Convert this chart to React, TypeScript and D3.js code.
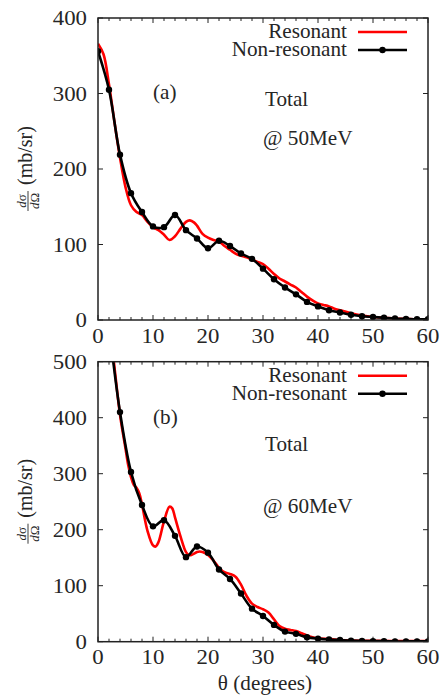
import React from "react";
import * as d3 from "d3";

// ---------- data ----------
const thetaNR = d3.range(0, 61, 2);
const nonResA = [356, 305, 219, 168, 143, 124, 123, 139, 119, 108, 95, 105, 98, 88, 81, 68, 54, 43, 34, 24, 18, 13, 10, 7, 5, 4, 3, 2, 1.5, 1, 1];
const nonResB = [760, 565, 410, 303, 244, 206, 217, 189, 151, 170, 159, 129, 112, 86, 59, 46, 30, 18, 14, 8, 5.5, 4, 3, 2, 1.5, 1, 1, 0.5, 0.5, 0.5, 0.5];

const thetaResA = [0, 1, 2, 3, 4, 5, 6, 7, 8, 9, 10, 11, 12, 13, 14, 15, 16, 16.7, 17.5, 18, 19, 20, 21, 22, 23, 24, 25, 26, 27, 28, 29, 30, 31, 32, 33, 34, 35, 36, 37, 38, 39, 40, 41, 42, 43, 44, 46, 48, 50, 52, 54, 56, 58, 60];
const resA = [366, 352, 312, 262, 215, 176, 152, 143, 139, 130, 123, 119, 113, 106, 111, 121, 130, 132, 129, 125, 114, 109, 106, 104, 98, 93, 88, 85, 83, 80, 77, 74, 68, 61, 55, 51, 47, 43, 37, 31, 26, 22, 20, 18, 15, 13, 9, 6, 4, 3, 2, 1.5, 1, 1];

const thetaResB = [0, 2, 3, 4, 5, 5.5, 6, 6.5, 7, 7.5, 8, 9, 10, 10.5, 11, 12, 13, 13.5, 14, 15, 16, 16.5, 17, 18, 18.5, 19, 20, 21, 22, 23, 24, 25, 26, 27, 28, 29, 30, 31, 32, 33, 34, 35, 36, 37, 38, 39, 40, 42, 44, 46, 50, 55, 60];
const resB = [760, 575, 490, 405, 345, 315, 294, 280, 275, 265, 245, 198, 172, 170, 178, 215, 241, 238, 222, 188, 160, 155, 155, 160, 161, 160, 155, 145, 132, 124, 121, 116, 102, 82, 68, 62, 58, 52, 40, 28, 23, 21, 19, 15, 11, 8, 6, 5, 3, 2, 1.5, 1, 1];

const xTicks = [0, 10, 20, 30, 40, 50, 60];
const yTicksA = [0, 100, 200, 300, 400];
const yTicksB = [0, 100, 200, 300, 400, 500];
const legendLabels = ["Resonant", "Non-resonant"];

const FONT = "'Liberation Serif', 'Times New Roman', serif";
const TXT = "#262626";
const RED = "#ff0000";

const X0 = 98;
const X1 = 428;

type TProps = {
  x: number;
  y: number;
  sx?: number;
  anchor?: "start" | "middle" | "end";
  size?: number;
  dy?: string;
  children: React.ReactNode;
};

function T({ x, y, sx = 1.06, anchor = "start", size = 20, dy, children }: TProps) {
  return (
    <text
      transform={`translate(${x},${y}) scale(${sx},1)`}
      textAnchor={anchor}
      dy={dy}
      fontSize={size}
      fill={TXT}
      fontFamily={FONT}
    >
      {children}
    </text>
  );
}

type PanelProps = {
  id: string;
  top: number;
  bottom: number;
  yMax: number;
  yTicks: number[];
  nonRes: number[];
  thRes: number[];
  res: number[];
  tag: string;
  energy: string;
  tagY: number;
  totalY: number;
  energyY: number;
};

function Panel(p: PanelProps) {
  const x = d3.scaleLinear().domain([0, 60]).range([X0, X1]);
  const y = d3.scaleLinear().domain([0, p.yMax]).range([p.bottom, p.top]);
  const line = d3
    .line<[number, number]>()
    .x((d) => x(d[0]))
    .y((d) => y(d[1]))
    .curve(d3.curveCatmullRom.alpha(0.5));
  const redPts: [number, number][] = p.thRes.map((t, i) => [t, p.res[i]]);
  const blkPts: [number, number][] = thetaNR.map((t, i) => [t, p.nonRes[i]]);
  const minor = d3.range(0, 61, 2);
  const clipId = "clip-" + p.id;
  const visibleDots = blkPts.filter((d) => d[1] <= p.yMax);
  const top = p.top;
  return (
    <g>
      <defs>
        <clipPath id={clipId}>
          <rect x={X0} y={p.top} width={X1 - X0} height={p.bottom - p.top} />
        </clipPath>
      </defs>
      {minor.map((t) => {
        const len = t % 10 === 0 ? 5 : 3;
        return (
          <g key={"xt" + t} stroke="#222" strokeWidth={1}>
            <line x1={x(t)} x2={x(t)} y1={p.bottom} y2={p.bottom - len} />
            <line x1={x(t)} x2={x(t)} y1={p.top} y2={p.top + len} />
          </g>
        );
      })}
      {p.yTicks.map((v) => (
        <g key={"yt" + v} stroke="#222" strokeWidth={1}>
          <line x1={X0} x2={X0 + 5} y1={y(v)} y2={y(v)} />
          <line x1={X1} x2={X1 - 5} y1={y(v)} y2={y(v)} />
        </g>
      ))}
      {p.yTicks.map((v) => (
        <T key={"yl" + v} x={87} y={y(v)} dy="0.35em" anchor="end" sx={1.14}>
          {v}
        </T>
      ))}
      {xTicks.map((t) => (
        <T key={"xl" + t} x={x(t)} y={p.bottom + 22.5} anchor="middle" sx={1.14}>
          {t}
        </T>
      ))}
      <g clipPath={`url(#${clipId})`}>
        <path d={line(redPts) || ""} fill="none" stroke={RED} strokeWidth={2.6} />
        <path d={line(blkPts) || ""} fill="none" stroke="#000" strokeWidth={2.6} />
        {visibleDots.map((d, i) => (
          <circle key={i} cx={x(d[0])} cy={y(d[1])} r={3.2} fill="#000" />
        ))}
      </g>
      <rect x={X0} y={p.top} width={X1 - X0} height={p.bottom - p.top} fill="none" stroke="#222" strokeWidth={1.5} />
      <T x={347} y={top + 20} anchor="end">
        {legendLabels[0]}
      </T>
      <line x1={358} x2={407} y1={top + 14} y2={top + 14} stroke={RED} strokeWidth={2.6} />
      <T x={347} y={top + 38} anchor="end">
        {legendLabels[1]}
      </T>
      <line x1={358} x2={407} y1={top + 32} y2={top + 32} stroke="#000" strokeWidth={2.6} />
      <circle cx={382.5} cy={top + 32} r={3.2} fill="#000" />
      <T x={153} y={p.tagY}>{p.tag}</T>
      <T x={265} y={p.totalY}>Total</T>
      <T x={263} y={p.energyY}>{p.energy}</T>
      <g transform={`translate(28, ${(p.top + p.bottom) / 2 - 3}) rotate(-90)`} fill={TXT} fontFamily={FONT}>
        <text x={-35} y={-2} textAnchor="middle" fontSize={13}>
          <tspan fontStyle="italic">d</tspan>σ
        </text>
        <line x1={-45} x2={-25} y1={0} y2={0} stroke={TXT} strokeWidth={0.9} />
        <text x={-35} y={10.5} textAnchor="middle" fontSize={13}>
          <tspan fontStyle="italic">d</tspan>Ω
        </text>
        <text x={-19} y={4} textAnchor="start" fontSize={20}>
          (mb/sr)
        </text>
      </g>
    </g>
  );
}

export default function App() {
  return (
    <svg width={444} height={698} style={{ position: "absolute", left: 0, top: 0, background: "#fff" }}>
      <rect width={444} height={698} fill="#fff" />
      <Panel
        id="a"
        top={18}
        bottom={320}
        yMax={400}
        yTicks={yTicksA}
        nonRes={nonResA}
        thRes={thetaResA}
        res={resA}
        tag="(a)"
        energy="@ 50MeV"
        tagY={99}
        totalY={106}
        energyY={145}
      />
      <Panel
        id="b"
        top={361.7}
        bottom={641.7}
        yMax={500}
        yTicks={yTicksB}
        nonRes={nonResB}
        thRes={thetaResB}
        res={resB}
        tag="(b)"
        energy="@ 60MeV"
        tagY={424}
        totalY={451}
        energyY={513}
      />
      <T x={265} y={690} anchor="middle">
        θ (degrees)
      </T>
    </svg>
  );
}
